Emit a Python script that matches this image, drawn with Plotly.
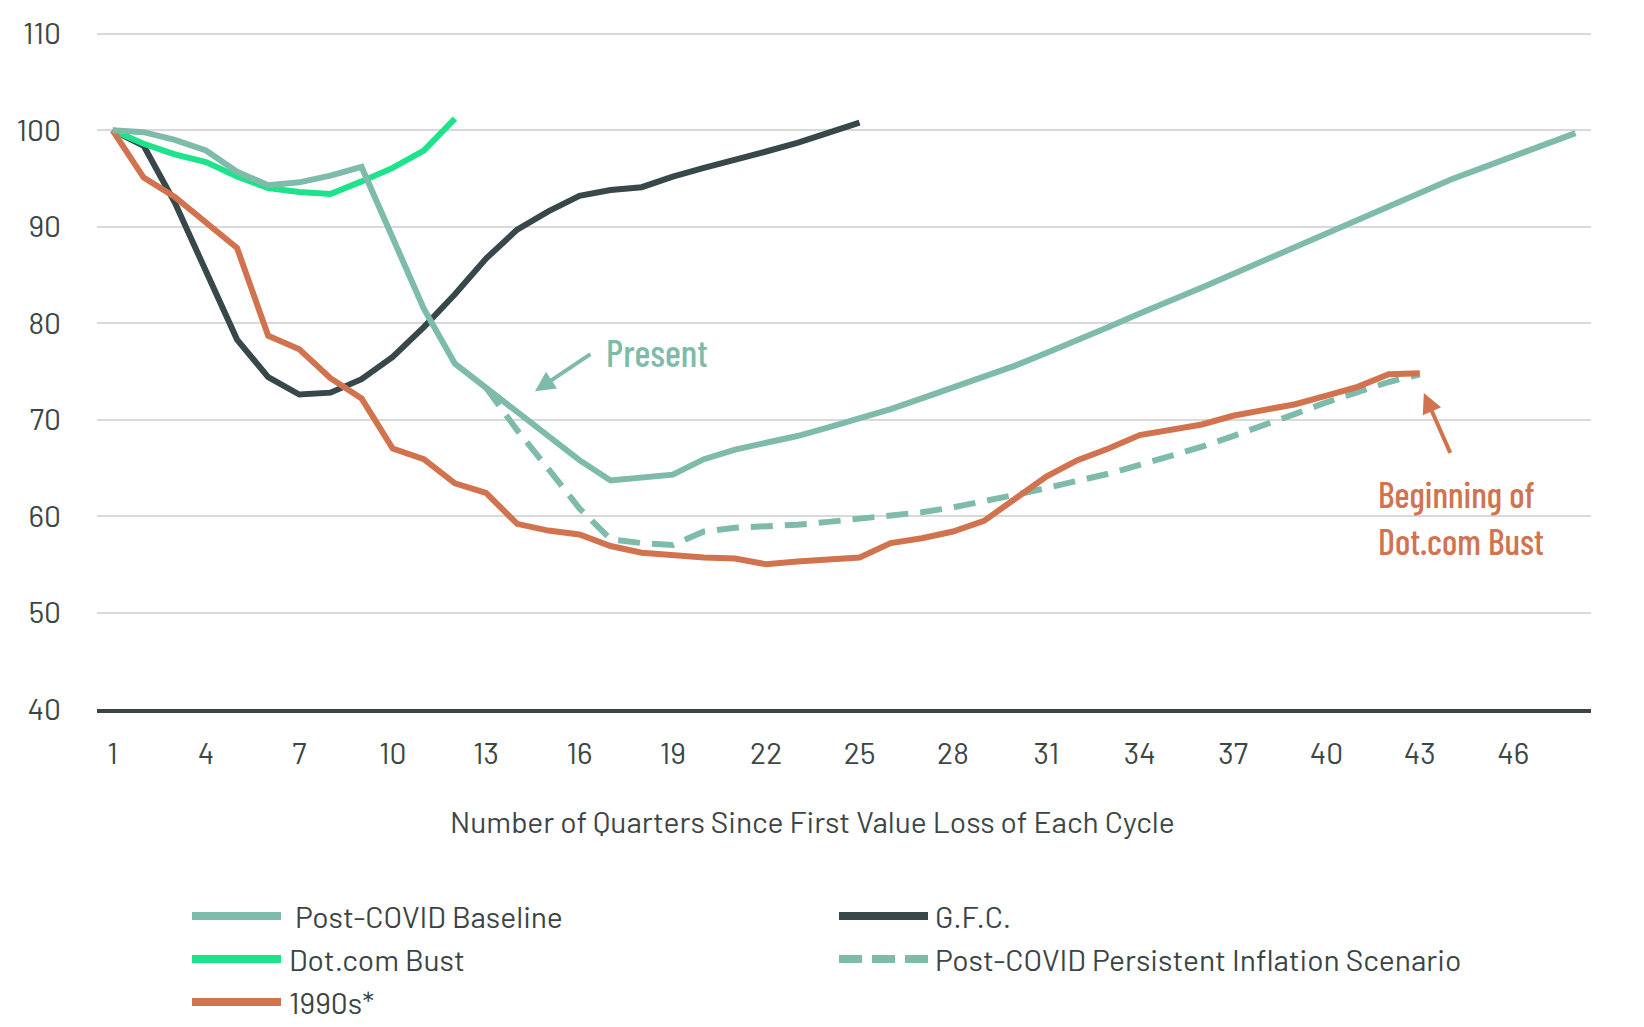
import plotly.graph_objects as go

quarters = list(range(1, 49))

baseline = [100, 99.8, 99.0, 97.9, 95.7, 94.3, 94.6, 95.3, 96.2, 88.8,
            81.5, 75.8, 73.3, 70.7, 68.2, 65.8, 63.7, 64.0, 64.3, 65.9,
            66.9, 67.6, 68.3, 69.2, 70.1, 71.1, 72.2, 73.3, 74.4, 75.6,
            76.9, 78.2, 79.6, 81.0, 82.3, 83.7, 85.1, 86.5, 87.9, 89.4,
            90.8, 92.2, 93.6, 94.9, 96.1, 97.3, 98.5, 99.7]

gfc = [100, 98.4, 92.5, 85.5, 78.3, 74.4, 72.6, 72.8, 74.2, 76.5,
       79.6, 83.0, 86.7, 89.7, 91.6, 93.2, 93.8, 94.1, 95.2, 96.1,
       96.9, 97.8, 98.7, 99.7, 100.8]

dotcom = [100, 98.6, 97.5, 96.7, 95.2, 94.0, 93.6, 93.4, 94.7, 96.1,
          97.9, 101.2]

nineties = [100, 95.1, 93.1, 90.5, 87.8, 78.7, 77.3, 74.3, 72.2, 67.0,
            65.9, 63.4, 62.4, 59.2, 58.5, 58.1, 56.9, 56.2, 55.9, 55.7,
            55.6, 55.0, 55.3, 55.5, 55.7, 57.2, 57.7, 58.4, 59.5, 61.8,
            64.1, 65.8, 67.0, 68.4, 69.0, 69.5, 70.4, 71.0, 71.6, 72.5,
            73.4, 74.7, 74.8]

persistent_start = 13
persistent = [73.3, 68.9, 64.9, 60.8, 57.6, 57.2, 57.0, 58.4, 58.8, 58.9,
              59.1, 59.4, 59.7, 60.0, 60.4, 60.9, 61.5, 62.2, 62.9, 63.6,
              64.4, 65.3, 66.2, 67.2, 68.3, 69.4, 70.6, 71.8, 72.9, 73.9,
              74.7]

x_ticks = list(range(1, 47, 3))
y_ticks = list(range(40, 111, 10))

C_BASE = "#7FBBAA"
C_GFC = "#37474A"
C_DOT = "#1DE38A"
C_90S = "#D2734F"

legend_items = [
    (" Post-COVID Baseline", C_BASE, "solid", 0, 0),
    ("G.F.C.", C_GFC, "solid", 1, 0),
    ("Dot.com Bust", C_DOT, "solid", 0, 1),
    ("Post-COVID Persistent Inflation Scenario", C_BASE, "23px,10px", 1, 1),
    ("1990s*", C_90S, "solid", 0, 2),
]

LW = 6
fig = go.Figure()

fig.add_trace(go.Scatter(x=quarters[:len(gfc)], y=gfc, mode="lines",
                         line=dict(color=C_GFC, width=LW), name="G.F.C."))
fig.add_trace(go.Scatter(x=quarters[:len(dotcom)], y=dotcom, mode="lines",
                         line=dict(color=C_DOT, width=LW), name="Dot.com Bust"))
fig.add_trace(go.Scatter(x=list(range(persistent_start, persistent_start + len(persistent))),
                         y=persistent, mode="lines",
                         line=dict(color=C_BASE, width=LW, dash="22px,12px"),
                         name="Post-COVID Persistent Inflation Scenario"))
fig.add_trace(go.Scatter(x=quarters[:len(nineties)], y=nineties, mode="lines",
                         line=dict(color=C_90S, width=LW), name="1990s*"))
fig.add_trace(go.Scatter(x=quarters, y=baseline, mode="lines",
                         line=dict(color=C_BASE, width=LW), name="Post-COVID Baseline"))

BODY = "Barlow, Inter, Lato, sans-serif"
COND = "Barlow Condensed, Roboto Condensed, sans-serif"
TICK_FONT = dict(family=BODY, size=30, color="#3B4646")

Y_TOP = 110.5   # a little headroom so the 110 gridline is drawn
M_T = 21
M_B = 310
FIG_H = 1011
# Page body has an 8px margin: figure is sized so that the page fits the window.
fig.update_layout(
    width=1628, height=FIG_H,
    margin=dict(l=89, r=45, t=M_T, b=M_B, autoexpand=False),
    plot_bgcolor="white", paper_bgcolor="white",
    showlegend=False,
    xaxis=dict(range=[0.5, 48.5], tickmode="array", tickvals=x_ticks,
               ticktext=[str(t) for t in x_ticks], showgrid=False, zeroline=False,
               showline=True, linecolor="#3A4545", linewidth=4, automargin=False,
               ticks="", tickfont=TICK_FONT, ticklabelstandoff=15),
    yaxis=dict(range=[40, Y_TOP], tickmode="array", tickvals=y_ticks,
               showgrid=True, gridcolor="#D9D9D9", gridwidth=1.5, zeroline=False,
               automargin=False,
               ticks="", tickfont=TICK_FONT, ticklabelstandoff=35),
)

AXIS_Y = FIG_H - M_B + 8          # page pixel of the bottom axis line
PW = 1494.0
PH = float(FIG_H - M_B - M_T)     # plot-area height in pixels
def px_x(X):
    return (X - 97) / PW
def px_y(Y):
    return (AXIS_Y - Y) / PH

fig.add_annotation(text="Number of Quarters Since First Value Loss of Each Cycle",
                   xref="paper", yref="paper", x=0.479, y=px_y(821),
                   xanchor="center", yanchor="middle", showarrow=False,
                   font=dict(family=BODY, size=30, color="#3B4646"))

# Present annotation
fig.add_annotation(x=14.57, y=72.95, ax=16.4, ay=76.9, xref="x", yref="y",
                   axref="x", ayref="y", text="", showarrow=True,
                   arrowhead=2, arrowsize=1.0, arrowwidth=4, arrowcolor=C_BASE)
fig.add_annotation(x=16.8, y=77.0, xref="x", yref="y", text="Present",
                   showarrow=False, xanchor="left", yanchor="middle",
                   font=dict(family=COND, size=38, color=C_BASE, weight=500))

# Dot.com annotation
fig.add_annotation(x=43.13, y=72.76, ax=44.0, ay=66.4, xref="x", yref="y",
                   axref="x", ayref="y", text="", showarrow=True,
                   arrowhead=2, arrowsize=1.0, arrowwidth=4, arrowcolor=C_90S)
fig.add_annotation(x=41.6, y=59.9, xref="x", yref="y",
                   text="Beginning of<br>Dot.com Bust", align="left",
                   showarrow=False, xanchor="left", yanchor="middle",
                   font=dict(family=COND, size=36, color=C_90S, weight=500))

# Custom legend, positioned relative to the plot area (page pixels)
row_y = [916, 959, 1002]
col_line = [(192, 281), (839, 928)]
col_text = [287, 933]
for label, color, dash, col, row in legend_items:
    x0, x1 = col_line[col]
    yy = px_y(row_y[row])
    fig.add_shape(type="line", xref="paper", yref="paper",
                  x0=px_x(x0), x1=px_x(x1), y0=yy, y1=yy,
                  line=dict(color=color, width=8, dash=dash))
    fig.add_annotation(text=label, xref="paper", yref="paper",
                       x=px_x(col_text[col]), y=yy, xanchor="left", yanchor="middle",
                       showarrow=False,
                       font=dict(family=BODY, size=30, color="#3B4444"))

fig.write_html("out.html")
